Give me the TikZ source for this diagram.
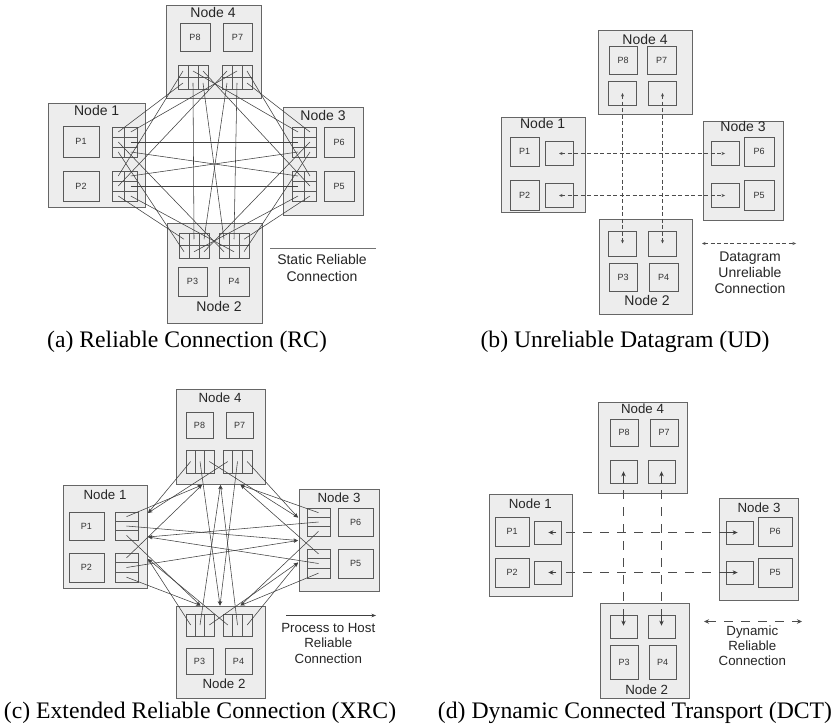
\documentclass[tikz,border=0pt]{standalone}
\usepackage{fontspec}
\setmainfont{Liberation Serif}
\newfontfamily\lsans{Liberation Sans}
\usetikzlibrary{arrows.meta}

% a host, queue pair or process box given by its corners (x0,y0)-(x1,y1)
\newcommand{\hostrect}[6]{%
  \node[#6, minimum width={#4-#2}, minimum height={#5-#3}] (#1) at ({(#2+#4)/2},{(#3+#5)/2}) {};}
\newcommand{\procrect}[6]{%
  \node[procbox, minimum width={#4-#2}, minimum height={#5-#3}] (#1) at ({(#2+#4)/2},{(#3+#5)/2}) {#6};}
% a block of queue pairs: name, corners, columns, rows; cell centres are name-col-row
\newcommand{\qpcells}[7]{%
  \node[qpgrid, minimum width={#4-#2}, minimum height={#5-#3}] (#1) at ({(#2+#4)/2},{(#3+#5)/2}) {};
  \foreach \ci in {1,...,#6}{%
    \ifnum\ci<#6 \draw[qpdiv] ({#2+\ci*(#4-#2)/#6},#3) -- ({#2+\ci*(#4-#2)/#6},#5);\fi
    \foreach \ri in {1,...,#7}{%
      \coordinate (#1-\ci-\ri) at ({#2+(\ci-0.5)*(#4-#2)/#6},{#3+(\ri-0.5)*(#5-#3)/#7});
    }
  }
  \foreach \ri in {1,...,#7}{%
    \ifnum\ri<#7 \draw[qpdiv] (#2,{#3+\ri*(#5-#3)/#7}) -- (#4,{#3+\ri*(#5-#3)/#7});\fi
  }}

\tikzset{
  hostbox/.style={draw=black!60, fill=black!7, line width=0.8pt, inner sep=0pt},
  procbox/.style={draw=black!65, fill=black!7, line width=0.8pt, inner sep=0pt,
    text=black!80, font=\lsans\fontsize{9}{10}\selectfont},
  qpgrid/.style={draw=black!65, fill=black!7, line width=0.8pt, inner sep=0pt},
  qpdiv/.style={draw=black!65, line width=0.8pt},
  hosttitle/.style={anchor=base, inner sep=0pt, text=black!85, font=\lsans\fontsize{14}{16}\selectfont},
  hosttitlesm/.style={hosttitle, font=\lsans\fontsize{13.3}{15}\selectfont},
  legtext/.style={anchor=base, inner sep=0pt, text=black!85, font=\lsans\fontsize{14}{16}\selectfont},
  legtextsm/.style={legtext, font=\lsans\fontsize{13.3}{15}\selectfont},
  caption/.style={anchor=base, inner sep=0pt, font=\fontsize{23.7}{28}\selectfont},
  rcline/.style={draw=black!75, line width=0.55pt},
  xrcline/.style={draw=black!75, line width=0.55pt, -{Stealth[length=4.5pt,width=3.5pt]}},
  udline/.style={draw=black!70, line width=0.6pt, dash pattern=on 4pt off 2.5pt,
    arrows={Stealth[length=3.5pt,width=3pt]-Stealth[length=3.5pt,width=3pt]}},
  dctline/.style={draw=black!70, line width=0.75pt, dash pattern=on 9pt off 8pt},
  dctarrow/.style={draw=black!75, line width=0.75pt, -{Stealth[length=5pt,width=4.5pt]}},
  legline/.style={draw=black!55, line width=0.8pt},
}

\begin{document}
\begin{tikzpicture}[x=1pt, y=-1pt]
\useasboundingbox (0,0) rectangle (837,727);
\fill[white] (0,0) rectangle (837,727);

%% ---------------- (a) Reliable Connection ----------------
\hostrect{a-n4}{166}{5}{261}{98}{hostbox}
\hostrect{a-n1}{48}{103}{145}{207}{hostbox}
\hostrect{a-n3}{283}{107}{363}{215}{hostbox}
\hostrect{a-n2}{167}{223}{262}{323}{hostbox}
\node[hosttitle] (a-t4) at (213,17.7) {Node 4};
\node[hosttitle] (a-t1) at (96.7,115.7) {Node 1};
\node[hosttitle] (a-t3) at (323,120.7) {Node 3};
\node[hosttitle] (a-t2) at (219,311.7) {Node 2};
\procrect{a-p8}{180}{23}{210}{51}{P8}
\procrect{a-p7}{223}{23}{252}{51}{P7}
\procrect{a-p1}{63}{126}{99}{157}{P1}
\procrect{a-p2}{63}{171}{99}{201}{P2}
\procrect{a-p6}{324}{127}{354}{157}{P6}
\procrect{a-p5}{324}{171}{354}{201}{P5}
\procrect{a-p3}{178}{267}{207}{296}{P3}
\procrect{a-p4}{219}{267}{249}{296}{P4}
\qpcells{a8}{178}{65}{208}{89}{3}{2}
\qpcells{a7}{222}{65}{252}{89}{3}{2}
\qpcells{a1}{112}{127}{137}{157}{2}{3}
\qpcells{a2}{112}{171}{137}{201}{2}{3}
\qpcells{a6}{292}{127}{316}{157}{2}{3}
\qpcells{a5}{292}{171}{316}{201}{2}{3}
\qpcells{a3}{179}{233}{209}{258}{3}{2}
\qpcells{a4}{219}{233}{249}{258}{3}{2}
% one connection per pair of processes on different hosts
\foreach \s/\t in {a1-2-2/a6-1-2, a2-2-2/a5-1-2, a1-2-3/a5-1-1, a2-2-1/a6-1-3,
                   a8-2-2/a3-2-1, a7-2-2/a4-2-1, a8-3-2/a4-1-1, a7-1-2/a3-3-1,
                   a1-1-1/a8-1-2, a1-2-1/a7-2-1, a2-1-1/a8-1-1, a2-1-2/a7-1-1,
                   a2-1-3/a3-1-1, a2-2-3/a4-2-2, a1-1-3/a3-1-2, a1-1-2/a4-1-2,
                   a6-2-1/a7-3-2, a6-1-1/a8-2-1, a5-2-1/a7-3-1, a5-2-2/a8-3-1,
                   a5-2-3/a4-3-1, a6-2-3/a4-3-2, a5-1-3/a3-2-2, a6-2-2/a3-3-2}
  \draw[rcline] (\s) -- (\t);
\coordinate (a-leg-l) at (270,248);
\coordinate (a-leg-r) at (376,248);
\draw[legline] (a-leg-l) -- (a-leg-r);
\node[legtext] (a-l1) at (322,264) {Static Reliable};
\node[legtext] (a-l2) at (322,281) {Connection};
\node[caption] (a-cap) at (187,347) {(a) Reliable Connection (RC)};

%% ---------------- (b) Unreliable Datagram ----------------
\hostrect{b-n4}{598}{30}{692}{114}{hostbox}
\hostrect{b-n1}{501}{117}{585}{212}{hostbox}
\hostrect{b-n3}{703}{121}{783}{220}{hostbox}
\hostrect{b-n2}{599}{219}{692}{314}{hostbox}
\node[hosttitle] (b-t4) at (645,44.3) {Node 4};
\node[hosttitle] (b-t1) at (542.7,128.7) {Node 1};
\node[hosttitle] (b-t3) at (743,131.7) {Node 3};
\node[hosttitle] (b-t2) at (647,305) {Node 2};
\procrect{b-p8}{609}{46}{637}{74}{P8}
\procrect{b-p7}{647}{46}{676}{74}{P7}
\procrect{b-p1}{510}{137}{539}{166}{P1}
\procrect{b-p2}{510}{180}{539}{210}{P2}
\procrect{b-p6}{744}{137}{774}{166}{P6}
\procrect{b-p5}{744}{180}{774}{210}{P5}
\procrect{b-p3}{609}{263}{637}{291}{P3}
\procrect{b-p4}{649}{263}{678}{291}{P4}
\hostrect{b-q8}{608}{81}{636}{105}{qpgrid}
\hostrect{b-q7}{648}{81}{676}{105}{qpgrid}
\hostrect{b-q1}{545}{141}{573}{165}{qpgrid}
\hostrect{b-q2}{545}{183}{573}{207}{qpgrid}
\hostrect{b-q6}{711}{141}{739}{165}{qpgrid}
\hostrect{b-q5}{711}{183}{739}{207}{qpgrid}
\hostrect{b-q3}{608}{231}{636}{256}{qpgrid}
\hostrect{b-q4}{648}{231}{676}{256}{qpgrid}
\draw[udline] ([xshift=0.5pt]b-q8.center) -- ([xshift=0.5pt]b-q3.center);
\draw[udline] ([xshift=0.5pt]b-q7.center) -- ([xshift=0.5pt]b-q4.center);
\draw[udline] ([yshift=-0.5pt]b-q1.center) -- ([yshift=-0.5pt]b-q6.center);
\draw[udline] ([yshift=-0.5pt]b-q2.center) -- ([yshift=-0.5pt]b-q5.center);
\coordinate (b-leg-l) at (702,243.5);
\coordinate (b-leg-r) at (796,243.5);
\draw[udline] (b-leg-l) -- (b-leg-r);
\node[legtext] (b-l1) at (750,261) {Datagram};
\node[legtext] (b-l2) at (750,277) {Unreliable};
\node[legtext] (b-l3) at (750,293) {Connection};
\node[caption] (b-cap) at (625,347) {(b) Unreliable Datagram (UD)};

%% ---------------- (c) Extended Reliable Connection ----------------
\hostrect{c-n4}{176}{389}{265}{484}{hostbox}
\hostrect{c-n1}{63}{485}{147}{588}{hostbox}
\hostrect{c-n3}{299}{489}{379}{591}{hostbox}
\hostrect{c-n2}{176}{606}{265}{698}{hostbox}
\node[hosttitlesm] (c-t4) at (220,402.3) {Node 4};
\node[hosttitlesm] (c-t1) at (105,499) {Node 1};
\node[hosttitlesm] (c-t3) at (339,502.7) {Node 3};
\node[hosttitlesm] (c-t2) at (224,688.3) {Node 2};
\procrect{c-p8}{186}{412}{213}{438}{P8}
\procrect{c-p7}{226}{412}{253}{438}{P7}
\procrect{c-p1}{69}{512}{104}{540}{P1}
\procrect{c-p2}{69}{553}{104}{582}{P2}
\procrect{c-p6}{338}{508}{373}{536}{P6}
\procrect{c-p5}{338}{549}{373}{578}{P5}
\procrect{c-p3}{186}{648}{213}{674}{P3}
\procrect{c-p4}{225}{648}{252}{674}{P4}
\qpcells{c8}{186}{450}{214}{473}{3}{1}
\qpcells{c7}{223}{450}{252}{473}{3}{1}
\qpcells{c1}{115}{512}{138}{540}{1}{3}
\qpcells{c2}{115}{553}{138}{582}{1}{3}
\qpcells{c6}{307}{508}{330}{536}{1}{3}
\qpcells{c5}{307}{549}{330}{578}{1}{3}
\qpcells{c3}{186}{614}{214}{636}{3}{1}
\qpcells{c4}{223}{614}{252}{636}{3}{1}
% arrival points on the host borders
\coordinate (t4-1) at (202,485);   \coordinate (t4-2) at (220.5,485); \coordinate (t4-3) at (240.5,485);
\coordinate (t1-4) at (148,513);   \coordinate (t1-3) at (148,537);   \coordinate (t1-2) at (148,559);
\coordinate (t3-4) at (298,517.5); \coordinate (t3-1) at (298,540.5); \coordinate (t3-2) at (298,562.5);
\coordinate (t2-1) at (200.5,605.5); \coordinate (t2-4) at (220,605.5); \coordinate (t2-3) at (240.5,605.5);
\foreach \s/\t in {c1-1-1/t4-1, c1-1-2/t3-1, c1-1-3/t2-1,
                   c2-1-1/t4-1, c2-1-2/t3-1, c2-1-3/t2-1,
                   c8-1-1/t1-4, c8-2-1/t2-4, c8-3-1/t3-4,
                   c7-1-1/t1-4, c7-2-1/t2-4, c7-3-1/t3-4,
                   c3-1-1/t1-2, c3-2-1/t4-2, c3-3-1/t3-2,
                   c4-1-1/t1-2, c4-2-1/t4-2, c4-3-1/t3-2,
                   c6-1-1/t4-3, c6-1-2/t1-3, c6-1-3/t2-3,
                   c5-1-1/t4-3, c5-1-2/t1-3, c5-1-3/t2-3}
  \draw[xrcline] (\s) -- (\t);
\coordinate (c-leg-l) at (286,615.5);
\coordinate (c-leg-r) at (376,615.5);
\draw[xrcline] (c-leg-l) -- (c-leg-r);
\node[legtextsm] (c-l1) at (328.3,632.3) {Process to Host};
\node[legtextsm] (c-l2) at (328.3,647.7) {Reliable};
\node[legtextsm] (c-l3) at (328.3,663.3) {Connection};
\node[caption] (c-cap) at (200,718) {(c) Extended Reliable Connection (XRC)};

%% ---------------- (d) Dynamic Connected Transport ----------------
\hostrect{d-n4}{598}{402}{687}{493}{hostbox}
\hostrect{d-n1}{489}{494}{572}{596}{hostbox}
\hostrect{d-n3}{719}{498}{798}{600}{hostbox}
\hostrect{d-n2}{600}{603}{689}{698}{hostbox}
\node[hosttitlesm] (d-t4) at (642.5,413.3) {Node 4};
\node[hosttitlesm] (d-t1) at (530.3,508.7) {Node 1};
\node[hosttitlesm] (d-t3) at (759,512) {Node 3};
\node[hosttitlesm] (d-t2) at (646.7,694) {Node 2};
\procrect{d-p8}{610}{419}{638}{446}{P8}
\procrect{d-p7}{650}{419}{678}{446}{P7}
\procrect{d-p1}{495}{517}{529}{546}{P1}
\procrect{d-p2}{495}{558}{529}{587}{P2}
\procrect{d-p6}{758}{517}{792}{546}{P6}
\procrect{d-p5}{758}{558}{792}{587}{P5}
\procrect{d-p3}{610}{645}{638}{679}{P3}
\procrect{d-p4}{649}{645}{676}{679}{P4}
\hostrect{d-q8}{610}{460}{637}{483}{qpgrid}
\hostrect{d-q7}{648}{460}{675}{483}{qpgrid}
\hostrect{d-q1}{534}{521}{561}{544}{qpgrid}
\hostrect{d-q2}{534}{561}{561}{584}{qpgrid}
\hostrect{d-q6}{726}{521}{753}{544}{qpgrid}
\hostrect{d-q5}{726}{561}{753}{584}{qpgrid}
\hostrect{d-q3}{610}{615}{637}{638}{qpgrid}
\hostrect{d-q4}{648}{615}{675}{638}{qpgrid}
\draw[dctline] ([yshift=-7pt]d-q8.south) -- (d-q3.north);
\draw[dctline] ([yshift=-7pt]d-q7.south) -- (d-q4.north);
\draw[dctline] ([xshift=5pt]d-q1.east) -- (d-q6.west);
\draw[dctline] ([xshift=5pt]d-q2.east) -- (d-q5.west);
\draw[dctarrow] ([xshift=-5pt]d-q1.east) -- ([xshift=-13pt]d-q1.east);
\draw[dctarrow] ([xshift=-5pt]d-q2.east) -- ([xshift=-13pt]d-q2.east);
\draw[dctarrow] (d-q6.west) -- ([xshift=12pt]d-q6.west);
\draw[dctarrow] (d-q5.west) -- ([xshift=12pt]d-q5.west);
\draw[dctarrow] (d-q8.south) -- ([yshift=12pt]d-q8.south);
\draw[dctarrow] (d-q7.south) -- ([yshift=12pt]d-q7.south);
\draw[dctarrow] (d-q3.north) -- ([yshift=-11pt]d-q3.north);
\draw[dctarrow] (d-q4.north) -- ([yshift=-11pt]d-q4.north);
\coordinate (d-leg-l) at (704,621.5);
\coordinate (d-leg-r) at (802,621.5);
\draw[dctline, arrows={Stealth[length=5pt,width=4.5pt]-Stealth[length=5pt,width=4.5pt]}] (d-leg-l) -- (d-leg-r);
\node[legtextsm] (d-l1) at (752.3,635) {Dynamic};
\node[legtextsm] (d-l2) at (752.3,650) {Reliable};
\node[legtextsm] (d-l3) at (752.3,665.7) {Connection};
\node[caption] (d-cap) at (635,718) {(d) Dynamic Connected Transport (DCT)};
\end{tikzpicture}
\end{document}
